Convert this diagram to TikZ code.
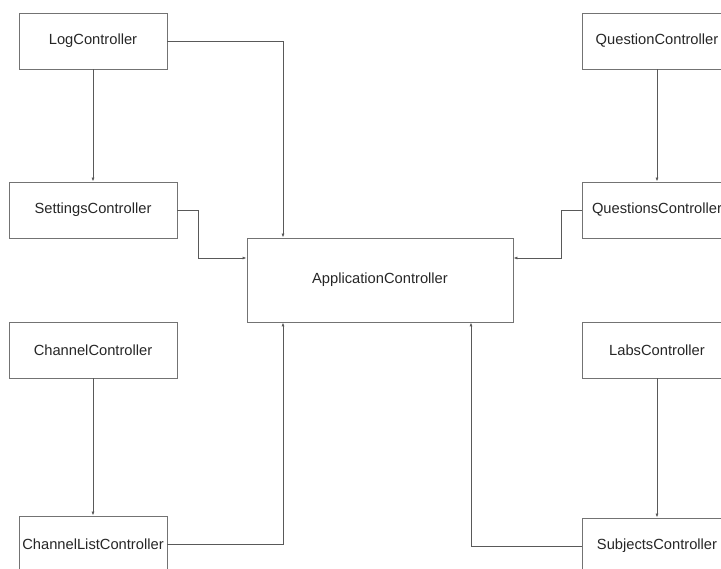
\documentclass[tikz,border=0pt]{standalone}
\usepackage{fontspec}
\setmainfont{Liberation Sans}
\usetikzlibrary{arrows.meta}
\tikzset{
  ctrl/.style={draw=black!55,line width=.8pt,minimum height=56pt,inner sep=0pt,
               font=\fontsize{14.7}{17}\selectfont,text=black!85},
  link/.style={draw=black!65,line width=.8pt,-{Latex[length=4pt,width=3pt]}}
}
\begin{document}
\begin{tikzpicture}[x=1pt,y=-1pt]
\useasboundingbox(0,0)rectangle(721,569);
\clip(0,0)rectangle(721,569);
%left column
\node[ctrl,minimum width=148pt](log)at(93,41){LogController};
\node[ctrl,minimum width=168pt](settings)at(93,210){SettingsController};
\node[ctrl,minimum width=168pt](channel)at(93,350){ChannelController};
\node[ctrl,minimum width=148pt](chlist)at(93,544){ChannelListController};
%centre
\node[ctrl,minimum width=266pt,minimum height=84pt](app)at(380,280){ApplicationController};
%right column
\node[ctrl,minimum width=150pt](question)at(657,41){QuestionController};
\node[ctrl,minimum width=150pt](questions)at(657,210){QuestionsController};
\node[ctrl,minimum width=150pt](labs)at(657,350){LabsController};
\node[ctrl,minimum width=150pt](subjects)at(657,546){SubjectsController};
%connectors
\draw[link](log)--(settings);
\draw[link](channel)--(chlist);
\draw[link](question)--(questions);
\draw[link](labs)--(subjects);
\draw[link](log.east)-|([xshift=-97pt]app.north);
\draw[link](settings.east)--++(21,0)|-([yshift=22pt]app.west);
\draw[link](questions.west)--++(-20,0)|-([yshift=22pt]app.east);
\draw[link](chlist.east)-|([xshift=-97pt]app.south);
\draw[link](subjects.west)-|([xshift=91pt]app.south);
\end{tikzpicture}
\end{document}
